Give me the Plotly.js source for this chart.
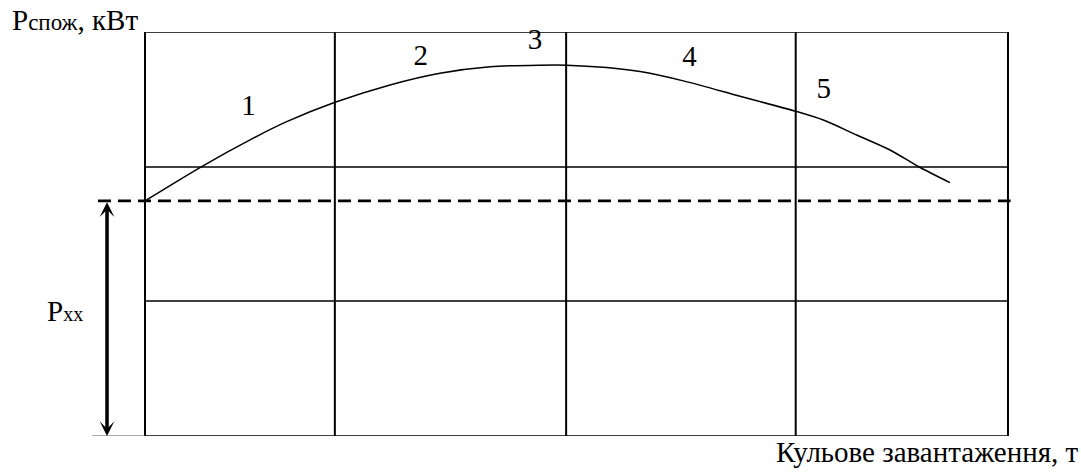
<!DOCTYPE html>
<html><head><meta charset="utf-8">
<script src="https://cdn.plot.ly/plotly-3.0.1.min.js"></script>
<style>html,body{margin:0;padding:0;background:#fff}</style>
</head><body>
<div id="chart" style="width:1081px;height:475px"></div>
<script>
// Power curve (arbitrary units)
const curveX = [0, 0.657, 1.217, 1.642, 2.202, 2.839, 3.418, 3.998, 4.577, 4.886, 5.350, 5.736, 6.238, 6.895, 7.552, 7.860, 8.247, 8.633, 8.961, 9.328];
const curveY = [5.82, 6.67, 7.33, 7.78, 8.26, 8.69, 8.98, 9.14, 9.18, 9.18, 9.12, 9.02, 8.79, 8.41, 8.03, 7.82, 7.45, 7.08, 6.67, 6.27];
// Grid divisions
const gridX = [0, 2.2, 4.88, 7.54, 10];
const gridY = [0, 3.34, 6.66, 10];
// Idle power level (dashed line)
const idleLevel = 5.82;
const dashX = [-0.545, 10.03];
const arrowX = -0.44;
// Zone labels
const zoneLabels = ['1', '2', '3', '4', '5'];
const zoneLabelX = [1.199, 3.195, 4.519, 6.310, 7.864];
const zoneLabelY = [8.13, 9.37, 9.76, 9.35, 8.54];
// Axis texts
const yTitle = 'P<span style="font-size:23px">спож</span>, кВт';
const idleTitle = 'P<span style="font-size:20px">xx</span>';
const xTitle = 'Кульове завантаження, т';

const FONT = '"Liberation Serif", "Times New Roman", serif';

function draw() {
  const shapes = [];
  gridX.forEach(function (gx) {
    shapes.push({type: 'line', xref: 'x', yref: 'y', x0: gx, x1: gx, y0: gridY[0], y1: gridY[gridY.length - 1],
      line: {color: '#000', width: 2}});
  });
  gridY.forEach(function (gy) {
    shapes.push({type: 'line', xref: 'x', yref: 'y', x0: gridX[0], x1: gridX[gridX.length - 1], y0: gy, y1: gy,
      line: {color: '#000', width: 1.5}});
  });
  // bottom baseline extension to the left
  shapes.push({type: 'line', xref: 'paper', yref: 'y', x0: 0, x1: 0.0576, y0: gridY[0], y1: gridY[0],
    line: {color: '#555', width: 1}});

  const traces = [
    {x: dashX, y: [idleLevel, idleLevel], mode: 'lines', line: {color: '#000', width: 2.6, dash: '13px,7px'}, hoverinfo: 'skip'},
    {x: curveX, y: curveY, mode: 'lines', line: {color: '#000', width: 1.5, shape: 'spline', smoothing: 0.8}, hoverinfo: 'skip'},
    {x: zoneLabelX, y: zoneLabelY, mode: 'text', text: zoneLabels, textposition: 'middle center',
      textfont: {family: FONT, size: 29, color: '#000'}, hoverinfo: 'skip', cliponaxis: false}
  ];

  const annotations = [
    {xref: 'x', yref: 'y', axref: 'x', ayref: 'y', x: arrowX, y: gridY[0], ax: arrowX, ay: idleLevel,
      showarrow: true, arrowside: 'end+start', arrowhead: 3, startarrowhead: 3, arrowsize: 0.7, startarrowsize: 0.7,
      arrowwidth: 3.5, arrowcolor: '#000', standoff: 0, startstandoff: 0, text: ''},
    {xref: 'paper', yref: 'paper', x: -0.0885, y: 0.9844, xanchor: 'left', yanchor: 'bottom', showarrow: false,
      text: yTitle, font: {family: FONT, size: 29, color: '#000'}},
    {xref: 'paper', yref: 'paper', x: -0.0505, y: 0.309, xanchor: 'left', yanchor: 'middle', showarrow: false,
      text: idleTitle, font: {family: FONT, size: 29, color: '#000'}},
    {xref: 'paper', yref: 'paper', x: 1.0738, y: 0.0045, xanchor: 'right', yanchor: 'top', showarrow: false,
      text: xTitle, font: {family: FONT, size: 29, color: '#000'}}
  ];

  const layout = {
    width: 1081, height: 475,
    margin: {l: 92, r: 68, t: 32, b: 39, pad: 0},
    paper_bgcolor: '#fff', plot_bgcolor: '#fff',
    showlegend: false,
    xaxis: {range: [-0.614, 10.058], visible: false, fixedrange: true},
    yaxis: {range: [0, 10], visible: false, fixedrange: true},
    font: {family: FONT, color: '#000'},
    shapes: shapes,
    annotations: annotations
  };

  Plotly.newPlot('chart', traces, layout, {staticPlot: true, displayModeBar: false});
}

var drawn = false;
function drawOnce() { if (!drawn) { drawn = true; draw(); } }
if (document.fonts && document.fonts.load) {
  Promise.all([
    document.fonts.load('29px "Liberation Serif"', 'Кульове P12345'),
    document.fonts.load('20px "Liberation Serif"', 'xx спож')
  ]).then(drawOnce, drawOnce);
  setTimeout(drawOnce, 1500);
} else {
  drawOnce();
}
</script>
</body></html>
